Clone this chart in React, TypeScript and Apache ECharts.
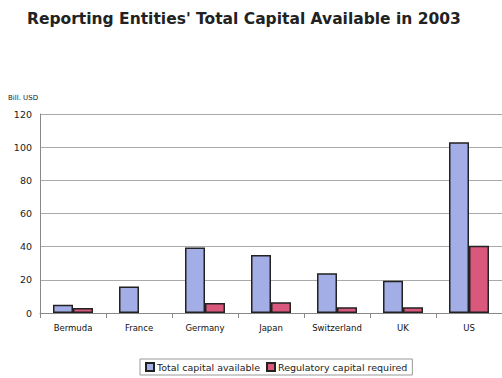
import React, { useEffect, useRef } from "react";
import * as echarts from "echarts";

const categories = ["Bermuda", "France", "Germany", "Japan", "Switzerland", "UK", "US"];
const totalAvailable = [5, 16, 39.5, 35, 24, 19.5, 103];
const regulatoryRequired = [3, null, 6, 6.5, 3.5, 3.5, 40.5];
const yTicks = { min: 0, max: 120, interval: 20 };

export default function App() {
  const ref = useRef<HTMLDivElement>(null);
  useEffect(() => {
    const chart = echarts.init(ref.current!, null, { renderer: "svg" });
    chart.setOption({
      animation: false,
      backgroundColor: "#ffffff",
      title: {
        text: "Reporting Entities' Total Capital Available in 2003",
        left: 22,
        top: 6,
        textStyle: { fontFamily: "DejaVu Sans", fontWeight: "bold", fontSize: 15.5, color: "#222" },
      },
      grid: { left: 40, right: 0, top: 114, bottom: 65 },
      legend: {
        bottom: 3,
        left: 140,
        itemWidth: 8,
        itemHeight: 8,
        itemGap: 6,
        borderColor: "#999",
        borderWidth: 1,
        padding: [3, 5, 3, 5],
        textStyle: { fontFamily: "DejaVu Sans", fontSize: 9.5, color: "#222", padding: [0, 0, 0, -2] },
        data: [
          { name: "Total capital available", icon: "rect" },
          { name: "Regulatory capital required", icon: "rect" },
        ],
      },
      xAxis: {
        type: "category",
        data: categories,
        axisLine: { lineStyle: { color: "#888" } },
        axisTick: { show: true, lineStyle: { color: "#888" } },
        axisLabel: { fontFamily: "DejaVu Sans", fontSize: 8.5, color: "#111", margin: 10 },
      },
      yAxis: {
        type: "value",
        min: yTicks.min,
        max: yTicks.max,
        interval: yTicks.interval,
        name: "Bill. USD",
        nameLocation: "end",
        nameGap: 13,
        nameTextStyle: { fontFamily: "DejaVu Sans", fontSize: 7, color: "#222", align: "left", padding: [0, 0, 0, -32] },
        axisLine: { show: true, lineStyle: { color: "#888" } },
        axisTick: { show: false },
        axisLabel: { fontFamily: "DejaVu Sans", fontSize: 9.5, color: "#222", margin: 8 },
        splitLine: { lineStyle: { color: "#aaa" } },
      },
      series: [
        {
          name: "Total capital available",
          type: "bar",
          data: totalAvailable,
          barWidth: 20,
          barGap: "0%",
          itemStyle: { color: "#a3ade6", borderColor: "#222", borderWidth: 1.5 },
        },
        {
          name: "Regulatory capital required",
          type: "bar",
          data: regulatoryRequired,
          barWidth: 20,
          barGap: "0%",
          itemStyle: { color: "#d9587c", borderColor: "#222", borderWidth: 1.5 },
        },
      ],
    });
    return () => chart.dispose();
  }, []);
  return <div ref={ref} style={{ position: "fixed", left: 0, top: 0, width: 502, height: 378 }} />;
}
